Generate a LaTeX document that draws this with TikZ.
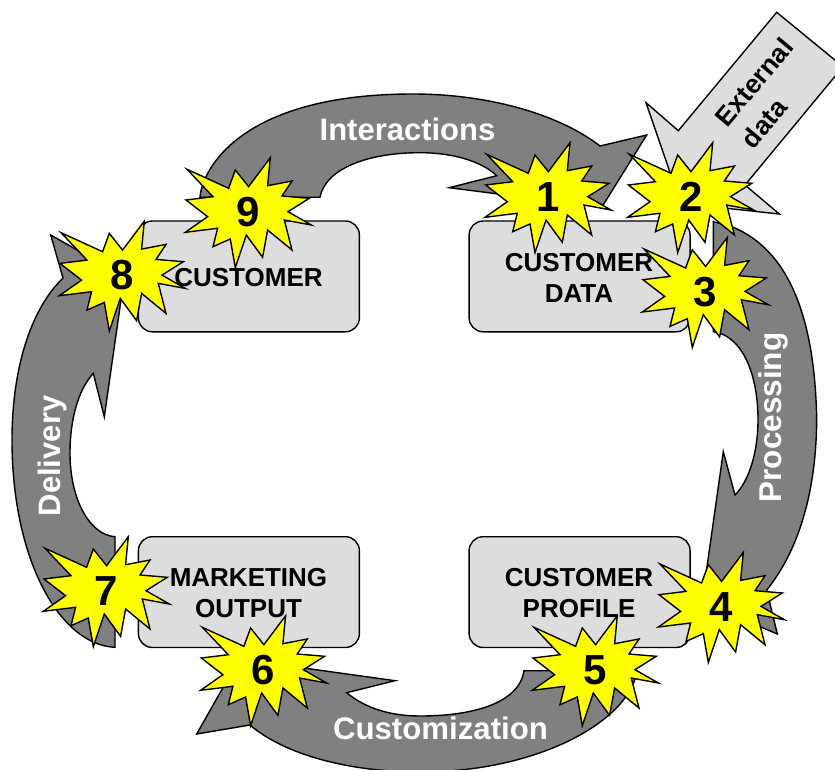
\documentclass[tikz,border=0pt]{standalone}
\usepackage{fontspec}
\setmainfont{Liberation Sans}
\definecolor{arrowgray}{HTML}{808080}
\definecolor{boxgray}{HTML}{DDDDDD}
\definecolor{burstyellow}{HTML}{FFFF00}
\newcommand{\burstat}[3]{%
  \draw[burstshape,shift={(#2)}]
    (570,142.7)--(567.3,170.7)--(591.7,166)--(581.7,181)--(609,183.3)--(587.7,196.7)
    --(611,210)--(584,205)--(591.7,235)--(567.3,215)--(562.3,242.3)--(546,220)
    --(535,252.7)--(530,224)--(512.7,231.7)--(517.3,213.3)--(485,217.3)--(507.3,201.7)
    --(485.7,185)--(512.7,181.7)--(486.7,154.3)--(528.3,173.3)--(535,155)--(548.3,171.7)--cycle;
  \node[burstnum,shift={(#2)}] (#1) at (548,197) {#3};}
\tikzset{
  blockarrow/.style={draw=black,fill=arrowgray,line width=1.4pt,line join=miter},
  lightarrow/.style={draw=black,fill=boxgray,line width=1.4pt,line join=miter},
  burstshape/.style={draw=black,fill=burstyellow,line width=1.4pt,line join=miter},
  burstnum/.style={inner sep=0pt,font=\fontsize{42}{42}\selectfont\bfseries},
  stagebox/.style={draw=black,fill=boxgray,line width=1.4pt,rounded corners=14pt,
    minimum width=221pt,minimum height=110.8pt,inner sep=0pt,anchor=north west},
  boxtext/.style={inner sep=0pt,align=center,font=\fontsize{26}{31}\selectfont\bfseries},
  flowtext/.style={inner sep=0pt,text=white,anchor=base,font=\fontsize{31}{31}\selectfont\bfseries},
}
\begin{document}
\begin{tikzpicture}[x=1pt,y=-1pt]
\useasboundingbox (0,0) rectangle (835,770);
% Interactions
\draw[blockarrow] (200,197.3)
  .. controls (202,170) and (240,94) .. (413,94)
  .. controls (490,94) and (560,115) .. (600,146)
  -- (646.7,135) -- (601.7,207.3) -- (449.3,187.7) -- (496.7,175.7)
  .. controls (480,160) and (450,152.7) .. (420,152.7)
  .. controls (365,152.7) and (325,170) .. (320,197.3) -- cycle;
% Processing
\draw[blockarrow] (713.3,221.7) -- (731.7,226.7)
  .. controls (790,250) and (815,320) .. (816.7,420)
  .. controls (816,500) and (795,555) .. (766.7,590)
  -- (777.3,634) -- (702,602) -- (723.3,451.7) -- (735,495)
  .. controls (750,480) and (758,450) .. (758,420)
  .. controls (758,370) and (740,335) .. (713.3,331.7) -- cycle;
% Customization
\draw[blockarrow] (524,670.7) -- (637,670.7)
  .. controls (630,720) and (540,772) .. (420,772)
  .. controls (350,772) and (285,755) .. (250,725)
  -- (196.7,734) -- (239.2,659) -- (395,680.7) -- (346.7,692.7)
  .. controls (365,708) and (390,716) .. (420,716)
  .. controls (480,716) and (520,700) .. (524,670.7) -- cycle;
% Delivery
\draw[blockarrow] (115,536.7) -- (115,647.3)
  .. controls (60,645) and (12,560) .. (12,440)
  .. controls (12,370) and (30,310) .. (63,278)
  -- (50.7,235) -- (124.3,276.7) -- (104.3,416.7) -- (93.3,373.3)
  .. controls (78,390) and (70,420) .. (70,453)
  .. controls (70,500) and (90,535) .. (115,536.7) -- cycle;
% External data
\draw[lightarrow] (776.7,12.3) -- (843,66.7) -- (745,185) -- (779.3,214)
  -- (680.7,203.3) -- (646,102.7) -- (678.3,130.7) -- cycle;
% boxes
\node[stagebox] (customer) at (137.7,220.3) {};
\node[stagebox] (custdata) at (468.4,220.3) {};
\node[stagebox] (output) at (137.7,536) {};
\node[stagebox] (profile) at (468.4,536) {};
\node[boxtext] (customertext) at (248.5,278) {CUSTOMER};
\node[boxtext] (custdatatext) at (579,278) {CUSTOMER\\DATA};
\node[boxtext] (outputtext) at (248.5,593) {MARKETING\\OUTPUT};
\node[boxtext] (profiletext) at (579,593) {CUSTOMER\\PROFILE};
% flow labels
\node[flowtext] (interactions) at (407.5,140.7) {Interactions};
\node[flowtext,rotate=90,font=\fontsize{31.5}{31}\selectfont\bfseries] (processing) at (781.7,417.5) {Processing};
\node[flowtext,font=\fontsize{31.2}{31}\selectfont\bfseries] (customization) at (440.5,739) {Customization};
\node[flowtext,rotate=90] (delivery) at (60,456) {Delivery};
\node[inner sep=0pt,align=left,rotate=50,font=\fontsize{26.5}{34}\selectfont\bfseries] (external) at (767,93) {External\\data};
% bursts
\burstat{n1}{0,0}{1}
\burstat{n2}{142.7,0}{2}
\burstat{n3}{157.3,94.7}{3}
\burstat{n4}{173.3,409.7}{4}
\burstat{n5}{47.3,473}{5}
\burstat{n6}{-284.4,473}{6}
\burstat{n7}{-441.7,394}{7}
\burstat{n8}{-425.7,78.4}{8}
\burstat{n9}{-299.7,15}{9}
\end{tikzpicture}
\end{document}
